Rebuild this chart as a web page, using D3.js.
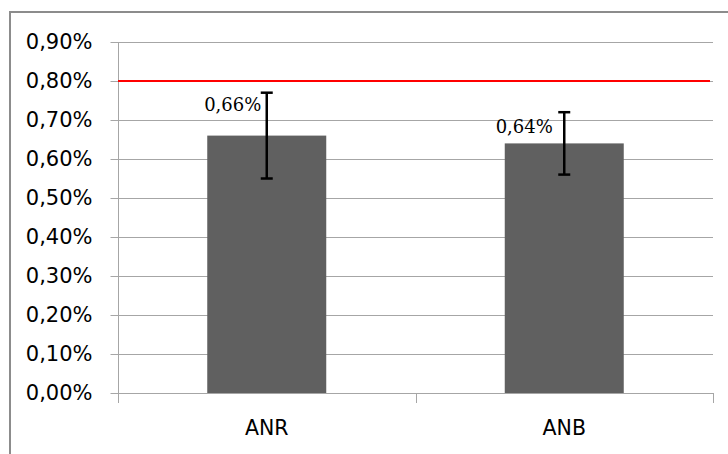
<!DOCTYPE html>
<html><head><meta charset="utf-8">
<script src="https://cdn.jsdelivr.net/npm/d3@7"></script>
<style>html,body{margin:0;padding:0;background:#fff;}svg{display:block;}</style>
</head><body>
<svg id="c" width="728" height="454"></svg>
<script>
const categories = ["ANR", "ANB"];
const values = [0.66, 0.64];
const errLow = [0.55, 0.56];
const errHigh = [0.77, 0.72];
const valueLabels = ["0,66%", "0,64%"];
const referenceValue = 0.80;
const yTicks = [0, 0.1, 0.2, 0.3, 0.4, 0.5, 0.6, 0.7, 0.8, 0.9];
const yTickLabels = ["0,00%","0,10%","0,20%","0,30%","0,40%","0,50%","0,60%","0,70%","0,80%","0,90%"];
// manual label placement (layout, pixels)
const labelDx = [-34, -40];
const labelDy = [-25, -10];

const svg = d3.select("#c");
const L = 118, R = 713, T = 42, B = 393;
const x = d3.scaleBand().domain(categories).range([L, R]).padding(0);
const y = d3.scaleLinear().domain([0, 0.9]).range([B, T]);
const grey = "#a6a6a6";

// outer frame
svg.append("path").attr("d", `M10,454 V12 H728`).attr("fill","none").attr("stroke","#8c8c8c").attr("stroke-width",2);

// gridlines
svg.append("g").selectAll("line").data(yTicks.slice(1)).join("line")
  .attr("x1", L).attr("x2", R).attr("y1", d => Math.round(y(d))+0.5).attr("y2", d => Math.round(y(d))+0.5)
  .attr("stroke", grey).attr("stroke-width", 1);

// y axis
const yAxis = d3.axisLeft(y).tickValues(yTicks).tickSize(8).tickPadding(18)
  .tickFormat((d,i) => yTickLabels[i]);
const gy = svg.append("g").attr("transform", `translate(${L+0.5},0)`).call(yAxis);
gy.select(".domain").attr("stroke", grey).attr("d", `M0,${T}V${B+10}`);
gy.selectAll(".tick line").attr("stroke", grey);
gy.selectAll(".tick text").attr("font-family","DejaVu Sans").attr("font-size", 21).attr("fill","#000");
gy.selectAll(".tick").attr("transform", d => `translate(0,${Math.round(y(d))+0.5})`);

// x axis
const xAxis = d3.axisBottom(x).tickSize(0).tickPadding(27);
const gx = svg.append("g").attr("transform", `translate(0,${B+0.5})`).call(xAxis);
gx.select(".domain").attr("stroke", grey).attr("d", `M${L},0H${R}`);
gx.selectAll(".tick text").attr("font-family","DejaVu Sans").attr("font-size", 20.5).attr("fill","#000");
// category boundary ticks
svg.append("g").selectAll("line").data(categories).join("line")
  .attr("x1", d => Math.round(x(d) + x.bandwidth())+0.5).attr("x2", d => Math.round(x(d) + x.bandwidth())+0.5)
  .attr("y1", B).attr("y2", B+10).attr("stroke", grey);

// bars
const bw = x.bandwidth()*0.4;
svg.append("g").selectAll("rect").data(values).join("rect")
  .attr("x", (d,i) => x(categories[i]) + x.bandwidth()/2 - bw/2)
  .attr("width", bw)
  .attr("y", d => y(d)).attr("height", d => B - y(d))
  .attr("fill", "#606060");

// reference line
svg.append("line").attr("x1", L).attr("x2", 710)
  .attr("y1", y(referenceValue)).attr("y2", y(referenceValue))
  .attr("stroke", "#ff0000").attr("stroke-width", 2);

// error bars
const eg = svg.append("g").attr("stroke","#000").attr("stroke-width",2.5);
categories.forEach((c,i) => {
  const cx = x(c) + x.bandwidth()/2;
  eg.append("line").attr("x1",cx).attr("x2",cx).attr("y1",y(errHigh[i])).attr("y2",y(errLow[i]));
  eg.append("line").attr("x1",cx-6).attr("x2",cx+6).attr("y1",y(errHigh[i])).attr("y2",y(errHigh[i]));
  eg.append("line").attr("x1",cx-6).attr("x2",cx+6).attr("y1",y(errLow[i])).attr("y2",y(errLow[i]));
});

// value labels
svg.append("g").selectAll("text").data(values).join("text")
  .attr("x", (d,i) => x(categories[i]) + x.bandwidth()/2 + labelDx[i])
  .attr("y", (d,i) => y(d) + labelDy[i])
  .attr("text-anchor","middle")
  .attr("font-family","DejaVu Serif").attr("font-size",18).attr("fill","#000")
  .text((d,i) => valueLabels[i]);
</script>
</body></html>
